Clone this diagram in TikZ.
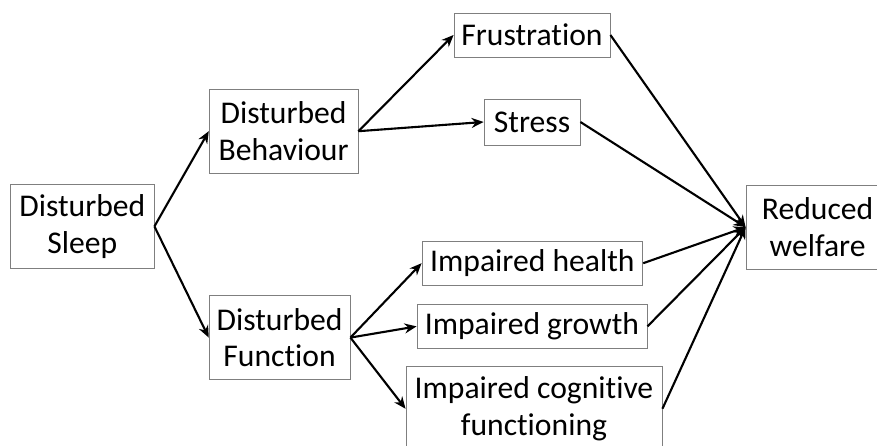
\documentclass[tikz,border=0pt]{standalone}
\usepackage{fontspec}
\setmainfont{Carlito}[Ligatures=CommonOff]
\usetikzlibrary{arrows.meta, positioning}
\definecolor{cgrey}{HTML}{7F7F7F}
\tikzset{
  every picture/.style={line width=1.5pt},
  box/.style={draw=cgrey, line width=0.6pt, align=center, inner sep=2pt, minimum height=1.1cm,
    font=\fontsize{22.5}{26}\selectfont},
  tall/.style={box, minimum height=2.1cm},
  arrow/.style={-{Stealth[length=3mm, width=2.5mm]}, draw=black},
}

\begin{document}
\begin{tikzpicture}
  \useasboundingbox (0,0) rectangle (21.925,-11.15);

  % causes
  \node[tall, minimum width=3.58cm] (sleep) at (2.06,-5.66) {Disturbed\\Sleep};
  \node[tall, minimum width=3.72cm] (behav) at (7.09,-3.28) {Disturbed\\Behaviour};
  \node[tall, minimum width=3.52cm] (func) at (6.99,-8.44) {Disturbed\\Function};

  % effects
  \node[box, minimum width=3.9cm] (frust) at (13.3,-0.875) {Frustration};
  \node[box, minimum width=2.4cm, minimum height=1.15cm] (stress) at (13.3,-3.05) {Stress};
  \node[box, minimum width=5.52cm] (health) at (13.31,-6.58) {Impaired health};
  \node[box, minimum width=5.75cm, minimum height=1.12cm] (growth) at (13.3,-8.16) {Impaired growth};
  \node[tall, minimum width=6.4cm] (cogn) at (13.35,-10.22) {Impaired cognitive\\functioning};

  % outcome
  \node[tall, minimum width=3.58cm] (welfare) at (20.44,-5.68) {Reduced\\welfare};

  \draw[arrow] (sleep.east) -- (behav.west);
  \draw[arrow] (sleep.east) -- (func.west);
  \draw[arrow] (behav.east) -- (frust.west);
  \draw[arrow] (behav.east) -- (stress.west);
  \draw[arrow] (func.east) -- (health.west);
  \draw[arrow] (func.east) -- (growth.west);
  \draw[arrow] (func.east) -- (cogn.west);
  \foreach \n in {frust, stress, health, growth, cogn}
    \draw[arrow] (\n.east) -- (welfare.west);
\end{tikzpicture}
\end{document}
